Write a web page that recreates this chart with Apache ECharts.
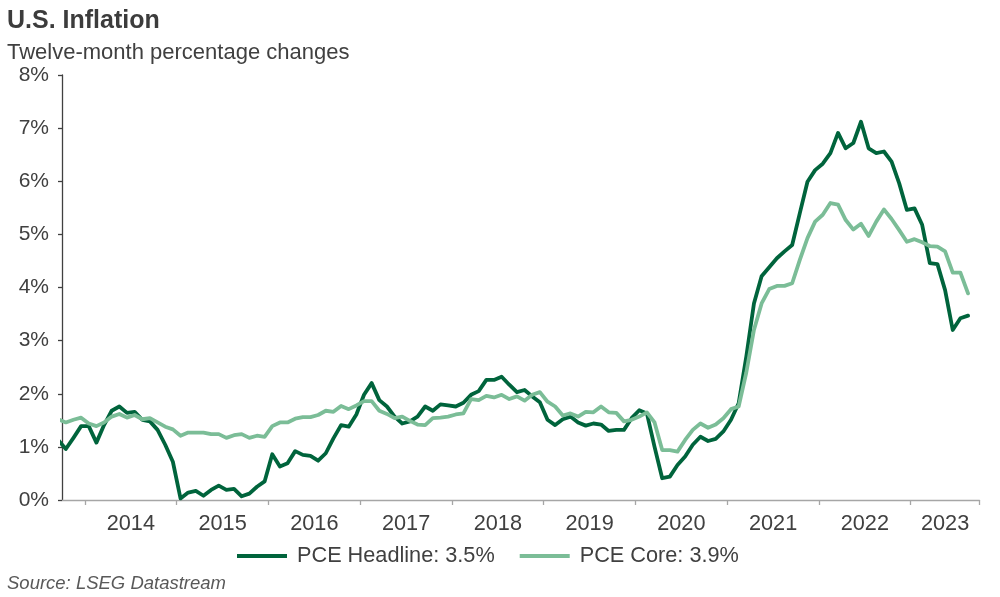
<!DOCTYPE html>
<html>
<head>
<meta charset="utf-8">
<script src="https://cdn.jsdelivr.net/npm/echarts@6/dist/echarts.min.js"></script>
<style>
  html, body { margin: 0; padding: 0; background: #ffffff; }
  #chart { width: 1000px; height: 597px; }
</style>
</head>
<body>
<div id="chart"></div>
<script>
// Monthly categories, Sep 2013 .. Sep 2023 (Sep 2013 sits just left of the visible axis)
const START_YEAR = 2013, START_MONTH = 9, END_YEAR = 2023, END_MONTH = 9;
const months = [];
for (let y = START_YEAR, m = START_MONTH; y < END_YEAR || (y === END_YEAR && m <= END_MONTH); ) {
  months.push(y + '-' + (m < 10 ? '0' + m : '' + m));
  m++; if (m > 12) { m = 1; y++; }
}

const yTicks = [0, 1, 2, 3, 4, 5, 6, 7, 8];

// PCE Headline, twelve-month % change (Sep 2013 .. Aug 2023)
const headline = [
  1.13,
  0.96, 1.17, 1.39,                                                  // 2013 Oct-Dec
  1.39, 1.08, 1.41, 1.68, 1.76, 1.64, 1.66, 1.51, 1.48, 1.32, 1.04, 0.72, // 2014
  0.03, 0.14, 0.17, 0.08, 0.19, 0.27, 0.19, 0.21, 0.07, 0.12, 0.25, 0.35, // 2015
  0.86, 0.63, 0.69, 0.92, 0.85, 0.83, 0.74, 0.88, 1.16, 1.41, 1.38, 1.61, // 2016
  1.98, 2.20, 1.88, 1.76, 1.57, 1.44, 1.48, 1.57, 1.76, 1.68, 1.80, 1.78, // 2017
  1.76, 1.83, 1.98, 2.05, 2.26, 2.26, 2.32, 2.17, 2.03, 2.07, 1.95, 1.84, // 2018
  1.51, 1.41, 1.52, 1.57, 1.46, 1.40, 1.44, 1.42, 1.30, 1.32, 1.32, 1.54, // 2019
  1.69, 1.63, 1.00, 0.41, 0.44, 0.66, 0.82, 1.04, 1.19, 1.11, 1.15, 1.29, // 2020
  1.51, 1.82, 2.70, 3.70, 4.21, 4.38, 4.55, 4.68, 4.80, 5.40, 5.99, 6.21, // 2021
  6.33, 6.53, 6.91, 6.62, 6.72, 7.12, 6.62, 6.53, 6.56, 6.37, 5.96, 5.46, // 2022
  5.49, 5.18, 4.46, 4.44, 3.95, 3.20, 3.42, 3.47, null                    // 2023
];

// PCE Core, twelve-month % change (Sep 2013 .. Aug 2023)
const core = [
  1.52,
  1.46, 1.51, 1.55,                                                  // 2013 Oct-Dec
  1.44, 1.39, 1.46, 1.57, 1.62, 1.55, 1.60, 1.52, 1.54, 1.46, 1.38, 1.33, // 2014
  1.21, 1.27, 1.27, 1.27, 1.24, 1.24, 1.17, 1.22, 1.24, 1.17, 1.21, 1.19, // 2015
  1.39, 1.46, 1.46, 1.53, 1.56, 1.56, 1.60, 1.68, 1.66, 1.77, 1.71, 1.78, // 2016
  1.86, 1.86, 1.68, 1.62, 1.54, 1.57, 1.49, 1.42, 1.41, 1.54, 1.55, 1.57, // 2017
  1.61, 1.63, 1.90, 1.88, 1.96, 1.93, 1.98, 1.90, 1.95, 1.87, 1.98, 2.03, // 2018
  1.85, 1.76, 1.59, 1.63, 1.57, 1.66, 1.65, 1.76, 1.65, 1.64, 1.48, 1.51, // 2019
  1.57, 1.65, 1.46, 0.94, 0.94, 0.91, 1.13, 1.32, 1.44, 1.36, 1.42, 1.54, // 2020
  1.71, 1.76, 2.40, 3.20, 3.70, 3.97, 4.03, 4.03, 4.08, 4.52, 4.93, 5.24, // 2021
  5.37, 5.59, 5.56, 5.27, 5.09, 5.20, 4.97, 5.24, 5.47, 5.29, 5.08, 4.86, // 2022
  4.91, 4.85, 4.78, 4.77, 4.68, 4.28, 4.28, 3.89, null                    // 2023
];

const seriesNames = ['PCE Headline: 3.5%', 'PCE Core: 3.9%'];
const seriesColors = ['#00643c', '#7bbd97'];

const FONT = '"Liberation Sans", Arial, sans-serif';
const TEXT = '#404040';

const chart = echarts.init(document.getElementById('chart'), null, { renderer: 'canvas' });

chart.setOption({
  animation: false,
  backgroundColor: '#ffffff',
  textStyle: { fontFamily: FONT },
  title: [
    { text: 'U.S. Inflation', left: 7, top: 9, padding: 0,
      textStyle: { fontFamily: FONT, fontSize: 25, fontWeight: 'bold', color: '#3c3c3c' } },
    { text: 'Twelve-month percentage changes', left: 7, top: 42, padding: 0,
      textStyle: { fontFamily: FONT, fontSize: 22, fontWeight: 'normal', color: TEXT } }
  ],
  graphic: [
    { type: 'text', left: 7, top: 574,
      style: { text: 'Source: LSEG Datastream', font: 'italic 18.5px "Liberation Sans", Arial, sans-serif', fill: '#595959' } }
  ],
  legend: {
    data: seriesNames,
    left: 237, top: 545, padding: 0,
    icon: 'rect', itemWidth: 50, itemHeight: 4, itemGap: 25,
    textStyle: { fontFamily: FONT, fontSize: 21.7, color: TEXT, padding: [0, 0, 0, 5] }
  },
  grid: { left: 62, right: 20.5, top: 75, bottom: 97, containLabel: false },
  xAxis: {
    type: 'category',
    data: months,
    boundaryGap: true,
    min: 1,
    max: months.length - 1,
    axisLine: { show: true, lineStyle: { color: '#a6a6a6', width: 1.3 } },
    axisTick: {
      show: true, length: 5, lineStyle: { color: '#a6a6a6', width: 1.3 },
      interval: function (i, v) { return v.slice(5) === '01'; }
    },
    axisLabel: {
      fontFamily: FONT, fontSize: 21.7, color: TEXT, margin: 13,
      interval: function (i, v) { return (v.slice(5) === '07' && v < '2023') || v === '2023-05'; },
      formatter: function (v) {
        const yr = v.slice(0, 4);
        return v === '2023-05' ? yr : '{f|' + yr + '}';
      },
      rich: { f: { fontFamily: FONT, fontSize: 21.7, color: TEXT, padding: [0, 7.6, 0, 0] } }
    },
    splitLine: { show: false }
  },
  yAxis: {
    type: 'value',
    min: yTicks[0], max: yTicks[yTicks.length - 1], interval: 1,
    axisLine: { show: true, lineStyle: { color: '#404040', width: 1.3 } },
    axisTick: { show: true, length: 4, lineStyle: { color: '#404040', width: 1.3 } },
    axisLabel: { fontFamily: FONT, fontSize: 21, color: TEXT, margin: 13, formatter: '{value}%' },
    splitLine: { show: false }
  },
  series: [
    { name: seriesNames[0], type: 'line', data: headline, showSymbol: false, symbol: 'none',
      color: seriesColors[0], clip: true,
      lineStyle: { color: seriesColors[0], width: 3.8, join: 'round', cap: 'round' } },
    { name: seriesNames[1], type: 'line', data: core, showSymbol: false, symbol: 'none',
      color: seriesColors[1], clip: true,
      lineStyle: { color: seriesColors[1], width: 3.8, join: 'round', cap: 'round' } }
  ]
});
</script>
</body>
</html>
